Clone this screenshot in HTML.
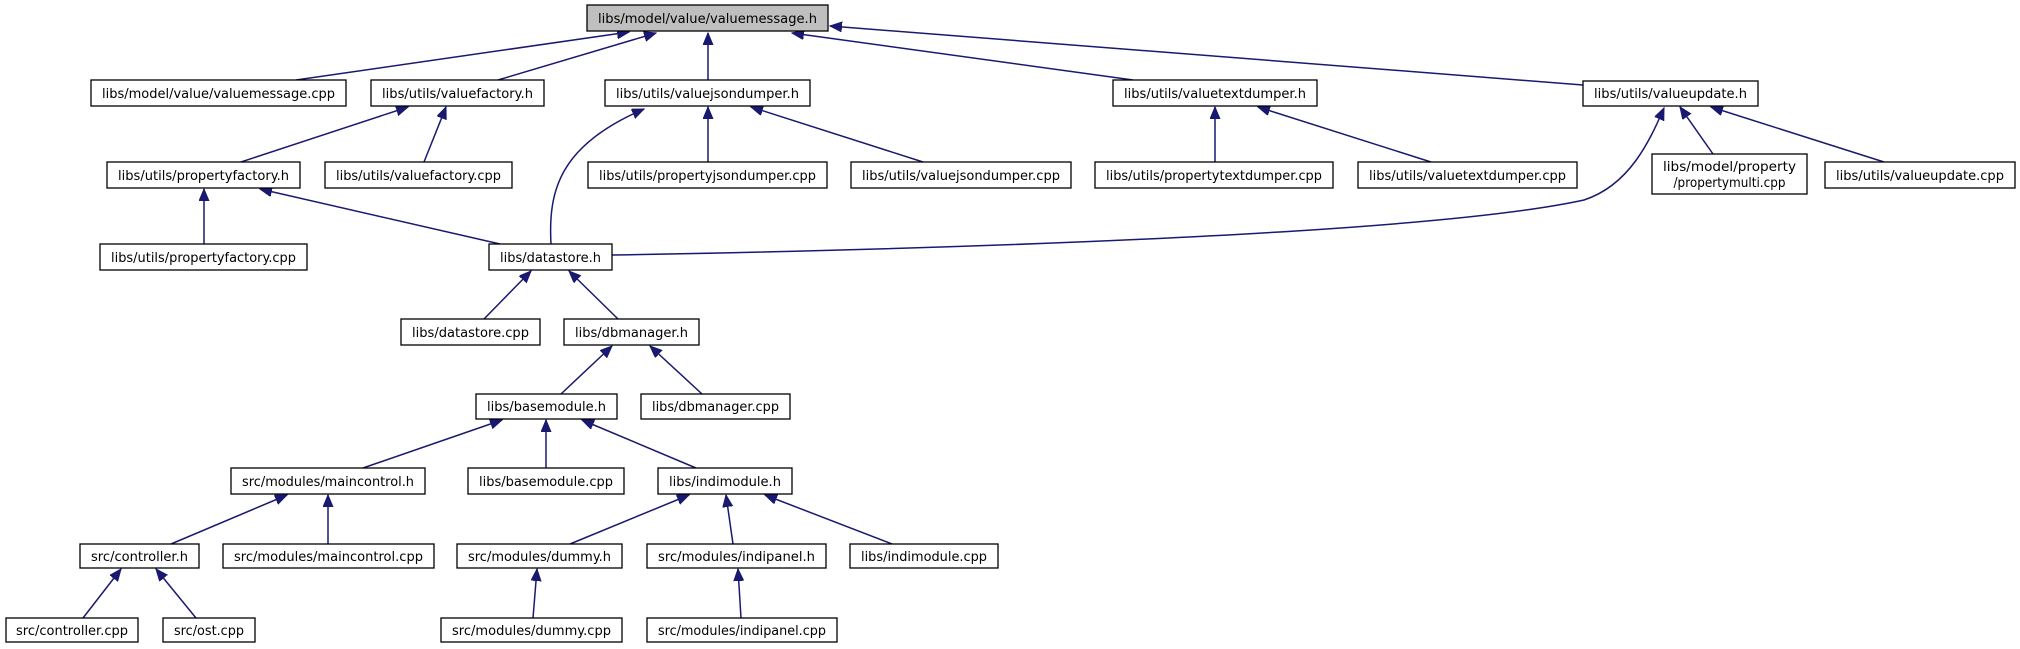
<!DOCTYPE html>
<html><head><meta charset="utf-8"><style>
html,body{margin:0;padding:0;background:#fff;}
svg{display:block;}
text{font-family:"DejaVu Sans","Liberation Sans",sans-serif;font-size:13px;fill:#000;}
</style></head><body>
<svg width="2020" height="649" viewBox="0 0 2020 649" xmlns="http://www.w3.org/2000/svg">
<defs>
<marker id="a" markerUnits="userSpaceOnUse" markerWidth="14" markerHeight="12" refX="12" refY="5" orient="auto">
<path d="M0,0 L12,5 L0,10 Z" fill="#191970" stroke="#191970"/>
</marker>
</defs>
<g stroke="#191970" stroke-width="1.5" fill="none" marker-end="url(#a)">
<line x1="296" y1="80" x2="629" y2="32"/>
<line x1="498" y1="80" x2="656" y2="33"/>
<line x1="708" y1="80" x2="708" y2="33"/>
<line x1="1133" y1="80" x2="792" y2="33"/>
<line x1="1583" y1="85" x2="830" y2="26"/>
<line x1="241" y1="162" x2="408" y2="107"/>
<line x1="424" y1="162" x2="446" y2="107"/>
<line x1="708" y1="162" x2="708" y2="107"/>
<line x1="923" y1="162" x2="751" y2="107"/>
<line x1="1215" y1="162" x2="1215" y2="107"/>
<line x1="1431" y1="162" x2="1258" y2="107"/>
<line x1="1713" y1="154" x2="1680" y2="107"/>
<line x1="1884" y1="162" x2="1711" y2="107"/>
<path d="M612,255 C900,250 1420,236 1584,200 C1630,185 1650,140 1664,108"/>
<path d="M551,244 C548,190 560,145 644,109"/>
<line x1="204" y1="244" x2="204" y2="189"/>
<line x1="500" y1="244" x2="260" y2="189"/>
<line x1="484" y1="319" x2="531" y2="271"/>
<line x1="618" y1="319" x2="569" y2="271"/>
<line x1="561" y1="394" x2="612" y2="346"/>
<line x1="702" y1="394" x2="650" y2="346"/>
<line x1="363" y1="468" x2="502" y2="420"/>
<line x1="546" y1="468" x2="546" y2="420"/>
<line x1="696" y1="468" x2="582" y2="420"/>
<line x1="171" y1="544" x2="287" y2="495"/>
<line x1="328" y1="544" x2="328" y2="495"/>
<line x1="570" y1="544" x2="689" y2="495"/>
<line x1="733" y1="544" x2="726" y2="495"/>
<line x1="892" y1="544" x2="765" y2="495"/>
<line x1="83" y1="618" x2="121" y2="569"/>
<line x1="196" y1="618" x2="156" y2="569"/>
<line x1="533" y1="618" x2="537" y2="569"/>
<line x1="741" y1="618" x2="738" y2="569"/>
</g>
<g stroke="#000" stroke-width="1.3" fill="#fff">
<rect x="587" y="5" width="241" height="26" fill="#bfbfbf"/>
<rect x="91" y="80" width="255" height="26"/>
<rect x="371" y="80" width="173" height="26"/>
<rect x="605" y="80" width="205" height="26"/>
<rect x="1113" y="80" width="204" height="26"/>
<rect x="1583" y="81" width="175" height="25"/>
<rect x="107" y="162" width="193" height="26"/>
<rect x="325" y="162" width="187" height="26"/>
<rect x="588" y="162" width="239" height="26"/>
<rect x="851" y="162" width="220" height="26"/>
<rect x="1095" y="162" width="238" height="26"/>
<rect x="1358" y="162" width="219" height="26"/>
<rect x="1652" y="154" width="155" height="40"/>
<rect x="1825" y="162" width="190" height="26"/>
<rect x="100" y="244" width="207" height="26"/>
<rect x="489" y="244" width="123" height="26"/>
<rect x="401" y="319" width="139" height="26"/>
<rect x="564" y="319" width="135" height="26"/>
<rect x="476" y="394" width="141" height="25"/>
<rect x="641" y="394" width="149" height="25"/>
<rect x="231" y="468" width="194" height="26"/>
<rect x="468" y="468" width="156" height="26"/>
<rect x="658" y="468" width="134" height="26"/>
<rect x="80" y="544" width="119" height="24"/>
<rect x="223" y="544" width="211" height="24"/>
<rect x="457" y="544" width="165" height="24"/>
<rect x="647" y="544" width="179" height="24"/>
<rect x="850" y="544" width="148" height="24"/>
<rect x="6" y="618" width="132" height="24"/>
<rect x="163" y="618" width="92" height="24"/>
<rect x="441" y="618" width="181" height="24"/>
<rect x="647" y="618" width="190" height="24"/>
</g>
<g text-anchor="middle">
<text x="707.5" y="23" textLength="219" lengthAdjust="spacingAndGlyphs">libs/model/value/valuemessage.h</text>
<text x="218.5" y="98" textLength="233" lengthAdjust="spacingAndGlyphs">libs/model/value/valuemessage.cpp</text>
<text x="457.5" y="98" textLength="151" lengthAdjust="spacingAndGlyphs">libs/utils/valuefactory.h</text>
<text x="707.5" y="98" textLength="183" lengthAdjust="spacingAndGlyphs">libs/utils/valuejsondumper.h</text>
<text x="1215" y="98" textLength="182" lengthAdjust="spacingAndGlyphs">libs/utils/valuetextdumper.h</text>
<text x="1670.5" y="98" textLength="153" lengthAdjust="spacingAndGlyphs">libs/utils/valueupdate.h</text>
<text x="203.5" y="180" textLength="171" lengthAdjust="spacingAndGlyphs">libs/utils/propertyfactory.h</text>
<text x="418.5" y="180" textLength="165" lengthAdjust="spacingAndGlyphs">libs/utils/valuefactory.cpp</text>
<text x="707.5" y="180" textLength="217" lengthAdjust="spacingAndGlyphs">libs/utils/propertyjsondumper.cpp</text>
<text x="961" y="180" textLength="198" lengthAdjust="spacingAndGlyphs">libs/utils/valuejsondumper.cpp</text>
<text x="1214" y="180" textLength="216" lengthAdjust="spacingAndGlyphs">libs/utils/propertytextdumper.cpp</text>
<text x="1467.5" y="180" textLength="197" lengthAdjust="spacingAndGlyphs">libs/utils/valuetextdumper.cpp</text>
<text x="1729.5" y="171" textLength="133" lengthAdjust="spacingAndGlyphs">libs/model/property</text>
<text x="1729.5" y="187" textLength="112" lengthAdjust="spacingAndGlyphs">/propertymulti.cpp</text>
<text x="1920" y="180" textLength="168" lengthAdjust="spacingAndGlyphs">libs/utils/valueupdate.cpp</text>
<text x="203.5" y="262" textLength="185" lengthAdjust="spacingAndGlyphs">libs/utils/propertyfactory.cpp</text>
<text x="550.5" y="262" textLength="101" lengthAdjust="spacingAndGlyphs">libs/datastore.h</text>
<text x="470.5" y="337" textLength="117" lengthAdjust="spacingAndGlyphs">libs/datastore.cpp</text>
<text x="631.5" y="337" textLength="113" lengthAdjust="spacingAndGlyphs">libs/dbmanager.h</text>
<text x="546.5" y="411" textLength="119" lengthAdjust="spacingAndGlyphs">libs/basemodule.h</text>
<text x="715.5" y="411" textLength="127" lengthAdjust="spacingAndGlyphs">libs/dbmanager.cpp</text>
<text x="328" y="486" textLength="172" lengthAdjust="spacingAndGlyphs">src/modules/maincontrol.h</text>
<text x="546" y="486" textLength="134" lengthAdjust="spacingAndGlyphs">libs/basemodule.cpp</text>
<text x="725" y="486" textLength="112" lengthAdjust="spacingAndGlyphs">libs/indimodule.h</text>
<text x="139.5" y="561" textLength="97" lengthAdjust="spacingAndGlyphs">src/controller.h</text>
<text x="328.5" y="561" textLength="189" lengthAdjust="spacingAndGlyphs">src/modules/maincontrol.cpp</text>
<text x="539.5" y="561" textLength="143" lengthAdjust="spacingAndGlyphs">src/modules/dummy.h</text>
<text x="736.5" y="561" textLength="157" lengthAdjust="spacingAndGlyphs">src/modules/indipanel.h</text>
<text x="924" y="561" textLength="126" lengthAdjust="spacingAndGlyphs">libs/indimodule.cpp</text>
<text x="72" y="635" textLength="112" lengthAdjust="spacingAndGlyphs">src/controller.cpp</text>
<text x="209" y="635" textLength="70" lengthAdjust="spacingAndGlyphs">src/ost.cpp</text>
<text x="531.5" y="635" textLength="159" lengthAdjust="spacingAndGlyphs">src/modules/dummy.cpp</text>
<text x="742" y="635" textLength="168" lengthAdjust="spacingAndGlyphs">src/modules/indipanel.cpp</text>
</g>
</svg>
</body></html>
